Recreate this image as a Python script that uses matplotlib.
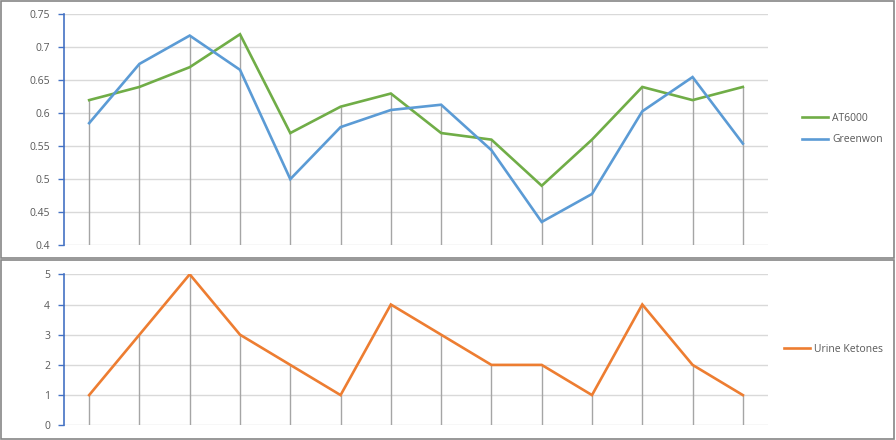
import matplotlib
matplotlib.use("Agg")
from matplotlib import pyplot as plt
from matplotlib.patches import Rectangle

plt.rcParams["font.family"] = ["Open Sans", "DejaVu Sans"]

samples = list(range(1, 15))
at6000 = [0.62, 0.64, 0.67, 0.72, 0.57, 0.61, 0.63, 0.57, 0.56, 0.49, 0.56, 0.64, 0.62, 0.64]
greenwon = [0.585, 0.675, 0.718, 0.666, 0.50, 0.579, 0.605, 0.613, 0.544, 0.435, 0.4775, 0.603, 0.655, 0.554]
ketones = [1, 3, 5, 3, 2, 1, 4, 3, 2, 2, 1, 4, 2, 1]

top_ticks = [0.4, 0.45, 0.5, 0.55, 0.6, 0.65, 0.7, 0.75]
top_labels = ["0.4", "0.45", "0.5", "0.55", "0.6", "0.65", "0.7", "0.75"]
bot_ticks = [0, 1, 2, 3, 4, 5]

GREEN = "#70AD47"
BLUE = "#5B9BD5"
ORANGE = "#ED7D31"
GRID = "#D9D9D9"
DROP = "#A5A5A5"
TXT = "#595959"
SPINE = "#4472C4"

W, H = 896, 440
fig = plt.figure(figsize=(W / 100, H / 100), dpi=100)


def px_axes(left, top, right, bottom):
    return fig.add_axes([left / W, 1 - bottom / H, (right - left) / W, (bottom - top) / H])


def style(ax, ymin, ymax, ticks, labels):
    x = [i - 0.5 for i in samples]
    ax.set_xlim(0, len(samples))
    ax.set_ylim(ymin, ymax)
    ax.set_yticks(ticks)
    ax.set_yticklabels(labels)
    ax.set_xticks([])
    for y in ticks:
        ax.axhline(y, color=GRID, lw=1, zorder=0)
    for s in ["top", "right", "bottom"]:
        ax.spines[s].set_visible(False)
    ax.spines["left"].set_color(SPINE)
    ax.spines["left"].set_linewidth(1.2)
    ax.tick_params(axis="y", colors=SPINE, length=4, width=1, labelsize=7.5,
                   labelcolor=TXT, pad=6)
    return x


# top panel
ax1 = px_axes(64, 14.5, 768, 245)
x = style(ax1, 0.4, 0.75, top_ticks, top_labels)
tops = [max(a, b) for a, b in zip(at6000, greenwon)]
ax1.vlines(x, 0.4, tops, color=DROP, lw=1, zorder=1)
ax1.plot(x, at6000, color=GREEN, lw=1.9, label="AT6000", zorder=3, solid_joinstyle="miter")
ax1.plot(x, greenwon, color=BLUE, lw=1.9, label="Greenwon", zorder=3, solid_joinstyle="miter")
ax1.legend(loc="center left", bbox_to_anchor=(802 / W, 1 - 129 / H),
           bbox_transform=fig.transFigure, frameon=False, fontsize=7.5,
           labelcolor=TXT, handlelength=2.5, handletextpad=0.4, labelspacing=1.0,
           borderpad=0, borderaxespad=0)

# bottom panel
ax2 = px_axes(64, 274.3, 768, 425.3)
x = style(ax2, 0, 5, bot_ticks, [str(t) for t in bot_ticks])
ax2.vlines(x, 0, ketones, color=DROP, lw=1, zorder=1)
ax2.plot(x, ketones, color=ORANGE, lw=1.9, label="Urine Ketones", zorder=3, solid_joinstyle="miter")
ax2.legend(loc="center left", bbox_to_anchor=(784 / W, 1 - 349 / H),
           bbox_transform=fig.transFigure, frameon=False, fontsize=7.5,
           labelcolor=TXT, handlelength=2.5, handletextpad=0.4,
           borderpad=0, borderaxespad=0)

# chart borders
for top, bottom in [(0.8, 258.2), (259.6, 438.8)]:
    fig.add_artist(Rectangle((0.8 / W, 1 - bottom / H), (894.4 - 0.8) / W, (bottom - top) / H,
                             transform=fig.transFigure, fill=False,
                             edgecolor="#868686", lw=1.2))

fig.savefig("out.png", dpi=100)
